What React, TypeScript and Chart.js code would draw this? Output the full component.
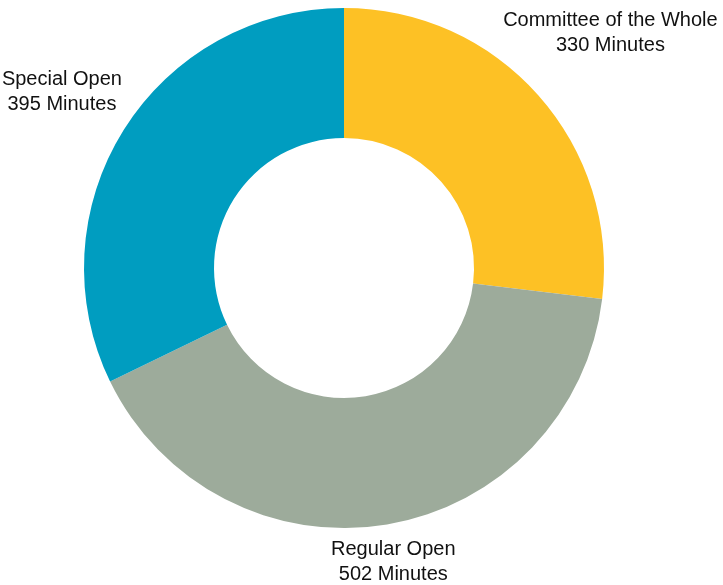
import React, { useEffect, useRef } from "react";
import { Chart, registerables } from "chart.js";

Chart.register(...registerables);

const categories = ["Committee of the Whole", "Regular Open", "Special Open"];
const minutes = [330, 502, 395];
const colors = ["#FDC125", "#9DAB9B", "#009DC0"];
const labelDistance = [1.37, 1.144, 1.28];

const outsideLabels = {
  id: "outsideLabels",
  afterDatasetsDraw(chart: any) {
    const ctx = chart.ctx;
    const meta = chart.getDatasetMeta(0);
    ctx.save();
    ctx.font = "20px 'Liberation Sans', Arial, sans-serif";
    ctx.fillStyle = "#111111";
    ctx.textAlign = "center";
    ctx.textBaseline = "middle";
    meta.data.forEach((arc: any, i: number) => {
      const p = arc.getProps(["x", "y", "startAngle", "endAngle", "outerRadius"], true);
      const mid = (p.startAngle + p.endAngle) / 2;
      const r = p.outerRadius * labelDistance[i];
      const cx = p.x + Math.cos(mid) * r;
      const cy = p.y + Math.sin(mid) * r + 1;
      ctx.fillText(categories[i], cx, cy - 12.5);
      ctx.fillText(`${minutes[i]} Minutes`, cx, cy + 12.5);
    });
    ctx.restore();
  },
};

export default function App() {
  const ref = useRef<HTMLCanvasElement>(null);
  useEffect(() => {
    document.body.style.margin = "0";
    const chart = new Chart(ref.current!, {
      type: "doughnut",
      data: {
        labels: categories,
        datasets: [
          {
            data: minutes,
            backgroundColor: colors,
            borderWidth: 0,
          },
        ],
      },
      options: {
        animation: false,
        responsive: false,
        cutout: "50%",
        layout: { padding: { left: 84, right: 119, top: 8, bottom: 57 } },
        plugins: {
          legend: { display: false },
          tooltip: { enabled: false },
        },
      },
      plugins: [outsideLabels],
    });
    return () => chart.destroy();
  }, []);
  return (
    <div style={{ position: "absolute", left: 0, top: 0, width: 723, height: 585, background: "#fff" }}>
      <canvas ref={ref} width={723} height={585} />
    </div>
  );
}
